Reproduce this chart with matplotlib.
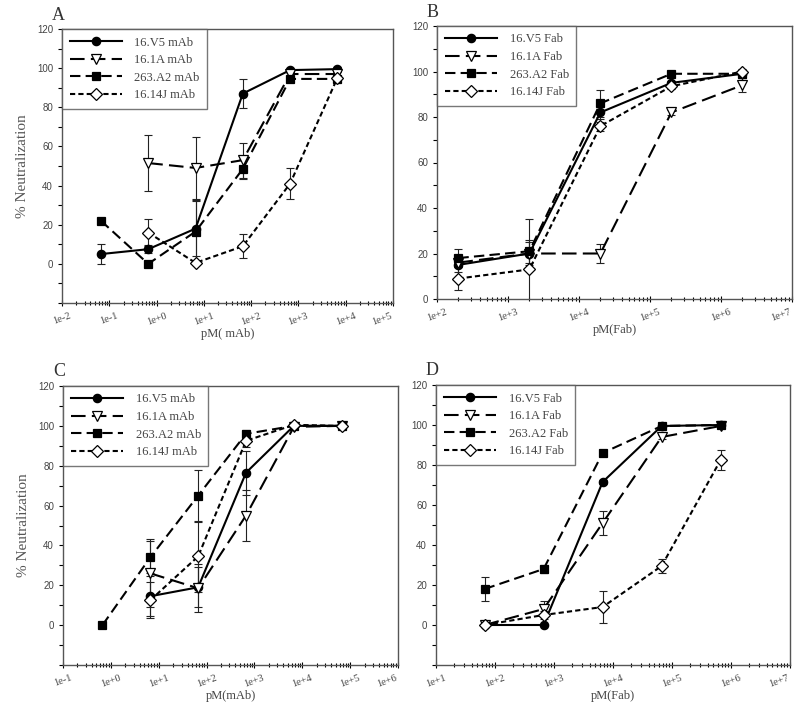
import numpy as np
import matplotlib
matplotlib.use('Agg')
import matplotlib.pyplot as plt
from matplotlib.ticker import LogLocator, MultipleLocator, NullFormatter

plt.rcParams['font.family'] = ['Liberation Serif', 'DejaVu Serif']

names_mab = ['16.V5 mAb', '16.1A mAb', '263.A2 mAb', '16.14J mAb']
names_fab = ['16.V5 Fab', '16.1A Fab', '263.A2 Fab', '16.14J Fab']
nan = np.nan

# panel A : mAb
a_x = [0.0667, 0.667, 6.67, 66.7, 667, 6670]
a_v5 = [5, 7.5, 18, 87, 99, 99.5]
a_v5_e = [5, 2, 14, 7.5, 1, 1]
a_1a = [nan, 51.5, 49, 53, 97, 97]
a_1a_e = [nan, 14.5, 16, 9, 1, 1]
a_a2 = [22, 0, 16.5, 48.5, 94.5, 94.5]
a_a2_e = [0, 0, 16, 5, 1, 1]
a_14j = [nan, 16, 0.5, 9, 41, 95]
a_14j_e = [nan, 7, 0, 6, 8, 1]
a_ticks = ['1e-2', '1e-1', '1e+0', '1e+1', '1e+2', '1e+3', '1e+4', '1e+5']

# panel B : Fab
b_x = [200, 2000, 20000, 200000, 2000000]
b_v5 = [15, 20, 82, 95, 99]
b_v5_e = [3, 5, 3, 1, 1]
b_1a = [16, 20, 20, 82, 94]
b_1a_e = [0, 0, 4, 1, 3]
b_a2 = [18, 21, 86, 99, 99]
b_a2_e = [4, 5, 6, 1, 1]
b_14j = [9, 13, 76, 93.5, 100]
b_14j_e = [5, 22, 2, 1, 1]
b_ticks = ['1e+2', '1e+3', '1e+4', '1e+5', '1e+6', '1e+7']

# panel C : mAb
c_x = [0.667, 6.67, 66.7, 667, 6670, 66700]
c_v5 = [nan, 14.5, 19, 76.5, 100, 100]
c_v5_e = [nan, 10, 10, 11, 1, 1]
c_1a = [nan, 26, 18.5, 55, 99.5, 100]
c_1a_e = [nan, 17, 12, 13, 1, 1]
c_a2 = [0, 34, 65, 96, 100, 100]
c_a2_e = [0, 8, 13, 2, 1, 1]
c_14j = [nan, 12.5, 34.5, 92.5, 100.5, 100]
c_14j_e = [nan, 9, 18, 3, 1, 1]
c_ticks = ['1e-1', '1e+0', '1e+1', '1e+2', '1e+3', '1e+4', '1e+5', '1e+6']

# panel D : Fab
d_x = [66.7, 667, 6670, 66700, 667000]
d_v5 = [0, 0, 71.5, 99.5, 100]
d_v5_e = [0, 0, 1, 1, 1]
d_1a = [0, 8, 51, 94, 99.5]
d_1a_e = [0, 4, 6, 1, 1]
d_a2 = [18, 28, 86, 99.5, 100]
d_a2_e = [6, 2, 1, 1, 1]
d_14j = [0, 5, 9, 29.5, 82.5]
d_14j_e = [0, 2, 8, 3.5, 5]
d_ticks = ['1e+1', '1e+2', '1e+3', '1e+4', '1e+5', '1e+6', '1e+7']

styles = [
    dict(marker='o', mfc='k', ls='-', ms=6),
    dict(marker='v', mfc='w', ls=(0, (7, 3)), ms=7),
    dict(marker='s', mfc='k', ls=(0, (5, 2.5)), ms=6),
    dict(marker='D', mfc='w', ls=(0, (2.5, 1.5)), ms=6),
]


def px_axes(fig, l, t, r, b):
    return fig.add_axes([l / 800, 1 - b / 724, (r - l) / 800, (b - t) / 724])


def panel(ax, x, ys, errs, names, ticks, ymin, letter, xlabel, ylabel=None):
    for y, e, st, name in zip(ys, errs, styles, names):
        ax.errorbar(x, y, yerr=e, fmt='none', ecolor='#222222', elinewidth=0.8,
                    capsize=3, capthick=0.8, zorder=2)
        ax.plot(x, y, color='k', lw=1.5, ls=st['ls'], marker=st['marker'],
                mfc=st['mfc'], mec='k', ms=st['ms'], mew=0.9, label=name,
                zorder=3)
    ax.set_xscale('log')
    lo = float(ticks[0].replace('1e', ''))
    hi = float(ticks[-1].replace('1e', ''))
    ax.set_xlim(10 ** lo, 10 ** hi)
    ax.set_xticks([10 ** (lo + i) for i in range(len(ticks))])
    ax.set_xticklabels(ticks, rotation=20, fontsize=7.5, color='#444444')
    labs = ax.get_xticklabels()
    labs[-1].set_ha('right')
    ax.xaxis.set_minor_locator(LogLocator(base=10, subs=np.arange(2, 10), numticks=20))
    ax.xaxis.set_minor_formatter(NullFormatter())
    ax.set_ylim(ymin, 120)
    ax.set_yticks(np.arange(0, 121, 20))
    ax.yaxis.set_minor_locator(MultipleLocator(10))
    for lab in ax.get_yticklabels():
        lab.set_family(['Liberation Sans', 'DejaVu Sans'])
        lab.set_fontsize(7)
        lab.set_color('#444444')
    ax.tick_params(axis='x', which='both', direction='inout', length=5, width=0.8)
    ax.tick_params(axis='x', which='minor', length=3)
    ax.tick_params(axis='y', which='both', direction='out', length=3, width=0.8)
    for s in ax.spines.values():
        s.set_color('#555555')
        s.set_linewidth(1.0)
    ax.set_xlabel(xlabel, fontsize=9, color='#444444', labelpad=1)
    if ylabel:
        ax.set_ylabel(ylabel, fontsize=11, color='#555555', labelpad=6)
    leg = ax.legend(loc='upper left', borderaxespad=0, frameon=True, fancybox=False,
                    edgecolor='#555555', fontsize=9, handlelength=4.2,
                    handletextpad=1.0, labelspacing=0.45, borderpad=0.6)
    leg.get_frame().set_linewidth(1.0)
    for t in leg.get_texts():
        t.set_color('#444444')
    ax.text(-0.03, 1.02, letter, transform=ax.transAxes, fontsize=13,
            color='#333333', ha='left', va='bottom')


fig = plt.figure(figsize=(8, 7.24), dpi=100)

axA = px_axes(fig, 62, 29, 393, 303)
panel(axA, a_x, [a_v5, a_1a, a_a2, a_14j], [a_v5_e, a_1a_e, a_a2_e, a_14j_e],
      names_mab, a_ticks, -20, 'A', 'pM( mAb)', '% Neutralization')

axB = px_axes(fig, 437, 26, 792, 299)
panel(axB, b_x, [b_v5, b_1a, b_a2, b_14j], [b_v5_e, b_1a_e, b_a2_e, b_14j_e],
      names_fab, b_ticks, 0, 'B', 'pM(Fab)')

axC = px_axes(fig, 63, 386, 398, 665)
panel(axC, c_x, [c_v5, c_1a, c_a2, c_14j], [c_v5_e, c_1a_e, c_a2_e, c_14j_e],
      names_mab, c_ticks, -20, 'C', 'pM(mAb)', '% Neutralization')

axD = px_axes(fig, 436, 385, 790, 665)
panel(axD, d_x, [d_v5, d_1a, d_a2, d_14j], [d_v5_e, d_1a_e, d_a2_e, d_14j_e],
      names_fab, d_ticks, -20, 'D', 'pM(Fab)')

fig.savefig('out.png', dpi=100)
